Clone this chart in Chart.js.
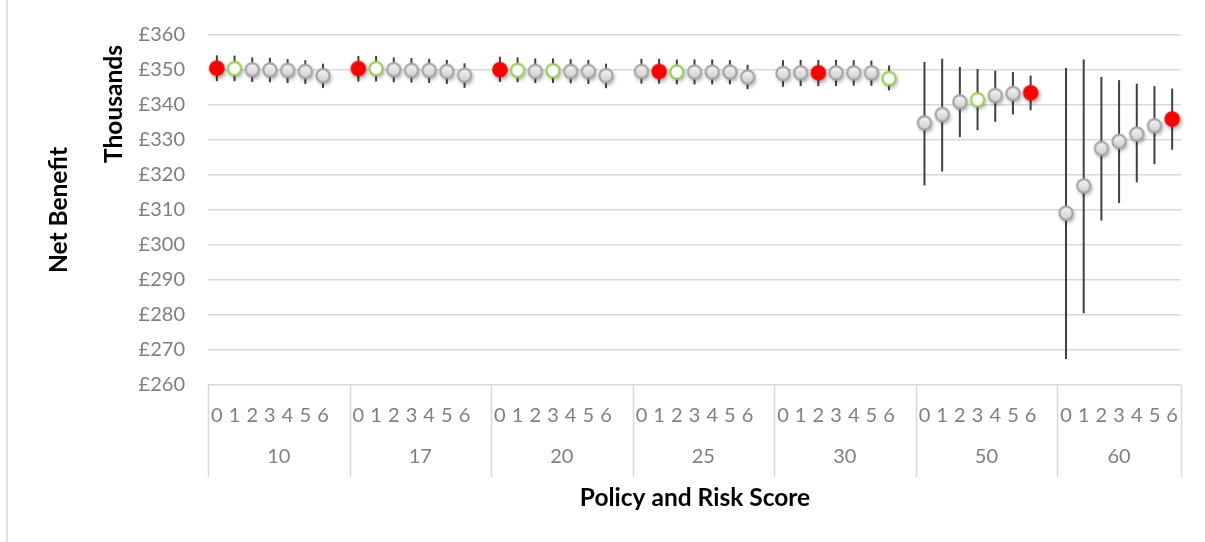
<!DOCTYPE html>
<html><head><meta charset="utf-8">
<script src="https://cdn.jsdelivr.net/npm/chart.js@4.4.1/dist/chart.umd.min.js"></script>
<style>html,body{margin:0;padding:0;background:#fff;}canvas{display:block}</style>
</head><body>
<canvas id="c" width="1205" height="542"></canvas>
<script>
// ---- data ----
const policyGroups = ['10', '17', '20', '25', '30', '50', '60'];
const riskScores = ['0', '1', '2', '3', '4', '5', '6'];
const yTicks = [260, 270, 280, 290, 300, 310, 320, 330, 340, 350, 360];

// mean net benefit (£ thousands) per policy, risk score 0..6
const mean10 = [350.5, 350.4, 350.1, 350.0, 349.9, 349.6, 348.4];
const mean17 = [350.4, 350.4, 350.1, 349.9, 349.9, 349.6, 348.5];
const mean20 = [350.1, 349.9, 349.6, 349.8, 349.6, 349.6, 348.4];
const mean25 = [349.6, 349.6, 349.4, 349.4, 349.4, 349.4, 348.0];
const mean30 = [349.0, 349.2, 349.2, 349.2, 349.2, 349.2, 347.6];
const mean50 = [334.9, 337.3, 340.9, 341.5, 342.7, 343.3, 343.5];
const mean60 = [309.1, 316.9, 327.6, 329.6, 331.7, 334.1, 336.0];

// lower ends of the error bars
const low10 = [346.8, 346.8, 346.6, 346.5, 346.3, 346.0, 344.9];
const low17 = [346.7, 346.7, 346.5, 346.4, 346.3, 346.0, 344.9];
const low20 = [346.6, 346.5, 346.3, 346.3, 346.2, 346.0, 344.8];
const low25 = [346.1, 346.1, 345.9, 345.9, 345.9, 345.9, 344.5];
const low30 = [345.2, 345.4, 345.4, 345.4, 345.5, 345.5, 344.2];
const low50 = [317.0, 321.0, 330.8, 332.8, 335.2, 337.3, 338.5];
const low60 = [267.4, 280.5, 307.0, 312.0, 317.9, 323.1, 327.2];

// upper ends of the error bars
const high10 = [354.2, 354.1, 353.6, 353.5, 353.1, 352.8, 351.8];
const high17 = [354.0, 354.0, 353.6, 353.4, 353.2, 352.9, 351.9];
const high20 = [353.8, 353.6, 353.3, 353.3, 353.1, 352.9, 351.8];
const high25 = [353.2, 353.2, 353.0, 353.0, 353.0, 352.8, 351.5];
const high30 = [352.8, 352.9, 352.9, 352.9, 352.8, 352.7, 351.3];
const high50 = [352.3, 353.2, 350.9, 350.3, 349.8, 349.4, 348.4];
const high60 = [350.6, 353.0, 348.0, 347.1, 346.1, 345.4, 344.7];

// marker kind per point: R = best (red), G = highlighted (green ring), O = other (grey)
const markerCodes = ['RGOOOOO', 'RGOOOOO', 'RGOGOOO', 'ORGOOOO', 'OOROOOG', 'OOOGOOR', 'OOOOOOR'];

const means = [mean10, mean17, mean20, mean25, mean30, mean50, mean60];
const lows = [low10, low17, low20, low25, low30, low50, low60];
const highs = [high10, high17, high20, high25, high30, high50, high60];

// flatten: 7 points per policy, one empty slot between policies
const labels = [], values = [], lowFlat = [], highFlat = [], kinds = [];
const groupStart = [], groupEnd = [];
policyGroups.forEach((g, gi) => {
  groupStart.push(labels.length - 0.5);
  riskScores.forEach((r, ri) => {
    labels.push(r);
    values.push(means[gi][ri]);
    lowFlat.push(lows[gi][ri]);
    highFlat.push(highs[gi][ri]);
    kinds.push(markerCodes[gi][ri]);
  });
  if (gi < policyGroups.length - 1) {
    labels.push('');
    values.push(null); lowFlat.push(null); highFlat.push(null); kinds.push(null);
  }
  groupEnd.push(labels.length - 0.5);
});

// ---- marker images ----
function makeMarker(kind) {
  const c = document.createElement('canvas');
  c.width = 28; c.height = 28;
  const x = c.getContext('2d');
  const cx = 14, cy = 14;
  x.save();
  x.shadowColor = 'rgba(0,0,0,0.38)';
  x.shadowBlur = 4;
  x.shadowOffsetX = 1.5;
  x.shadowOffsetY = 2.5;
  x.beginPath();
  if (kind === 'R') {
    x.arc(cx, cy, 7.8, 0, Math.PI * 2);
    x.fillStyle = '#ff0000';
    x.fill();
  } else if (kind === 'G') {
    x.arc(cx, cy, 6.6, 0, Math.PI * 2);
    x.fillStyle = '#ffffff';
    x.fill();
  } else {
    x.arc(cx, cy, 6.6, 0, Math.PI * 2);
    const gr = x.createLinearGradient(cx, cy - 7, cx, cy + 7);
    gr.addColorStop(0, '#f7f7f7');
    gr.addColorStop(1, '#cdcdcd');
    x.fillStyle = gr;
    x.fill();
  }
  x.restore();
  if (kind !== 'R') {
    x.beginPath();
    x.arc(cx, cy, 6.6, 0, Math.PI * 2);
    x.lineWidth = 2.2;
    x.strokeStyle = kind === 'G' ? '#92d050' : '#a5a5a5';
    x.stroke();
  }
  return c;
}
const markerImgs = { R: makeMarker('R'), G: makeMarker('G'), O: makeMarker('O') };

const tickColor = '#7f7f7f';
const gridColor = '#d9d9d9';

const errorBars = {
  id: 'errorBars',
  beforeDatasetsDraw(chart) {
    const ctx = chart.ctx, xs = chart.scales.x, ys = chart.scales.y;
    ctx.save();
    ctx.strokeStyle = '#404040';
    ctx.lineWidth = 2;
    values.forEach((v, i) => {
      if (v === null) return;
      const px = xs.getPixelForValue(i);
      ctx.beginPath();
      ctx.moveTo(px, ys.getPixelForValue(lowFlat[i]));
      ctx.lineTo(px, ys.getPixelForValue(highFlat[i]));
      ctx.stroke();
    });
    ctx.restore();
  }
};

const frame = {
  id: 'frame',
  beforeDraw(chart) {
    const ctx = chart.ctx;
    ctx.save();
    ctx.fillStyle = '#fff';
    ctx.fillRect(0, 0, chart.width, chart.height);
    ctx.strokeStyle = gridColor;
    ctx.lineWidth = 1.5;
    ctx.beginPath();
    ctx.moveTo(7, 0); ctx.lineTo(7, chart.height);
    ctx.stroke();
    ctx.restore();
  },
  afterDraw(chart) {
    const ctx = chart.ctx, xs = chart.scales.x, area = chart.chartArea;
    ctx.save();
    // group separators
    ctx.strokeStyle = gridColor;
    ctx.lineWidth = 1.5;
    const bounds = groupStart.concat([groupEnd[groupEnd.length - 1]]);
    bounds.forEach(b => {
      const px = Math.round(xs.getPixelForValue(b)) + 0.5;
      ctx.beginPath();
      ctx.moveTo(px, area.bottom);
      ctx.lineTo(px, 477);
      ctx.stroke();
    });
    // group labels
    ctx.fillStyle = tickColor;
    ctx.font = '20px Lato';
    ctx.textAlign = 'center';
    ctx.textBaseline = 'middle';
    policyGroups.forEach((g, gi) => {
      const px = (xs.getPixelForValue(groupStart[gi]) + xs.getPixelForValue(groupEnd[gi])) / 2;
      ctx.fillText(g, px, 457);
    });
    // axis titles
    ctx.fillStyle = '#000';
    ctx.font = 'bold 24.5px Lato';
    ctx.fillText('Policy and Risk Score', 695, 498);
    ctx.save();
    ctx.translate(114, 104);
    ctx.rotate(-Math.PI / 2);
    ctx.fillText('Thousands', 0, 0);
    ctx.restore();
    ctx.save();
    ctx.translate(59, 210);
    ctx.rotate(-Math.PI / 2);
    ctx.fillText('Net Benefit', 0, 0);
    ctx.restore();
    ctx.restore();
  }
};

new Chart(document.getElementById('c'), {
  type: 'line',
  data: {
    labels: labels,
    datasets: [{
      data: values,
      showLine: false,
      pointStyle: (c) => markerImgs[kinds[c.dataIndex]] || 'circle',
      pointRadius: 7.5,
      pointHoverRadius: 7.5,
      borderColor: 'rgba(0,0,0,0)',
      backgroundColor: 'rgba(0,0,0,0)'
    }]
  },
  options: {
    responsive: false,
    devicePixelRatio: 1,
    animation: false,
    events: [],
    layout: { padding: { top: 35, right: 24, bottom: 0, left: 0 } },
    plugins: { legend: { display: false }, tooltip: { enabled: false } },
    scales: {
      x: {
        type: 'category',
        offset: true,
        grid: { display: false },
        border: { display: false },
        ticks: {
          autoSkip: false, maxRotation: 0, minRotation: 0,
          color: tickColor, font: { family: 'Lato', size: 20 }, padding: 11
        },
        afterFit(s) { s.height = 157; }
      },
      y: {
        min: 260, max: 360,
        afterBuildTicks(s) { s.ticks = yTicks.map(v => ({ value: v })); },
        grid: { color: gridColor, lineWidth: 1.5, drawTicks: false },
        border: { display: false },
        ticks: {
          color: tickColor, font: { family: 'Lato', size: 20 }, padding: 23,
          callback: (v) => '£' + v
        },
        afterFit(s) { s.width = 208; }
      }
    }
  },
  plugins: [frame, errorBars]
});
</script>
</body></html>
